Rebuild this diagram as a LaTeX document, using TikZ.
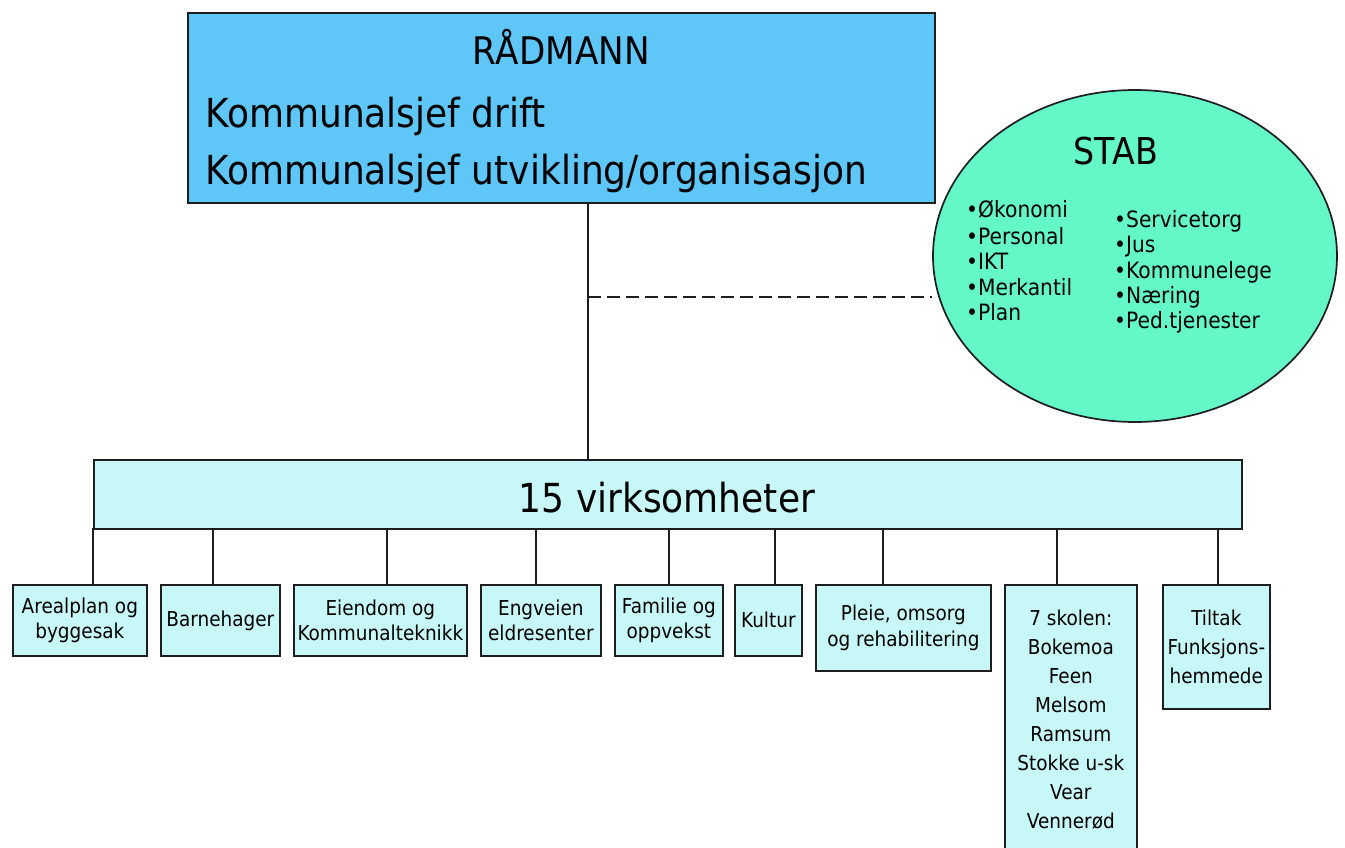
\documentclass[tikz,border=0pt]{standalone}
\usepackage{fontspec}
\setmainfont{DejaVu Sans}[FakeStretch=0.9]
\usetikzlibrary{shapes.geometric}
\definecolor{topblue}{HTML}{5FC7F8}
\definecolor{stabgreen}{HTML}{64F8C8}
\definecolor{unitcyan}{HTML}{C8F7F7}
\definecolor{edge}{HTML}{1E1E1E}
\begin{document}
\begin{tikzpicture}[x=1pt,y=-1pt,
  box/.style={draw=edge, line width=1.7pt, rectangle, inner sep=0pt, anchor=north west},
  unit/.style={box, fill=unitcyan, align=center, font=\fontsize{20.5}{25.5}\selectfont},
  tallunit/.style={unit, font=\fontsize{20.5}{29}\selectfont},
  link/.style={draw=edge, line width=1.6pt},
  txt/.style={inner sep=0pt},
  stabitem/.style={txt, anchor=base west, font=\fontsize{22.5}{26}\selectfont}]
\clip (0,0) rectangle (1345,848);
\fill[white] (0,0) rectangle (1345,848);
% top box
\node[box, fill=topblue, minimum width=747pt, minimum height=190pt] (top) at (187,12) {};
\node[txt, anchor=base, font=\fontsize{38}{42}\selectfont] (rad) at (561,65) {RÅDMANN};
\node[txt, anchor=base west, font=\fontsize{40}{48}\selectfont] (k1) at (205,128) {Kommunalsjef drift};
\node[txt, anchor=base west, font=\fontsize{40}{48}\selectfont] (k2) at (205,185) {Kommunalsjef utvikling/organisasjon};
% stab ellipse
\node[ellipse, draw=edge, line width=1.7pt, fill=stabgreen, minimum width=404pt, minimum height=332pt, inner sep=0pt] (stab) at (1135,256) {};
\node[txt, anchor=base, font=\fontsize{37}{42}\selectfont] (stabt) at (1116,165) {STAB};
\node[stabitem] (l1) at (966,218) {•Økonomi};
\node[stabitem] (l2) at (966,244) {•Personal};
\node[stabitem] (l3) at (966,269.5) {•IKT};
\node[stabitem] (l4) at (966,295) {•Merkantil};
\node[stabitem] (l5) at (966,320.5) {•Plan};
\node[stabitem] (r1) at (1114,227) {•Servicetorg};
\node[stabitem] (r2) at (1114,252.5) {•Jus};
\node[stabitem] (r3) at (1114,278) {•Kommunelege};
\node[stabitem] (r4) at (1114,303) {•Næring};
\node[stabitem] (r5) at (1114,328) {•Ped.tjenester};
% 15 virksomheter
\node[box, fill=unitcyan, minimum width=1148pt, minimum height=69pt] (virk) at (93,459) {};
\node[txt, anchor=base, font=\fontsize{40}{48}\selectfont] (virkt) at (667,512) {15 virksomheter};
% connectors top
\coordinate (tv) at (588,202);
\draw[link] (tv) -- (tv |- virk.north);
\coordinate (dj) at (588,297);
\draw[link, dash pattern=on 13pt off 6pt] (dj) -- (stab.west |- dj);
% units
\node[unit, minimum width=134pt, minimum height=71pt] (a) at (12,584) {Arealplan og\\byggesak};
\node[unit, minimum width=119pt, minimum height=71pt] (b) at (160,584) {Barnehager};
\node[unit, minimum width=173pt, minimum height=71pt] (c) at (293,584) {Eiendom og\\Kommunalteknikk};
\node[unit, minimum width=120pt, minimum height=71pt] (d) at (480,584) {Engveien\\eldresenter};
\node[unit, minimum width=108pt, minimum height=71pt] (e) at (614,584) {Familie og\\oppvekst};
\node[unit, minimum width=67pt, minimum height=71pt] (f) at (734,584) {Kultur};
\node[unit, minimum width=175pt, minimum height=86pt] (g) at (815,584) {Pleie, omsorg\\og rehabilitering};
\node[tallunit, minimum width=132pt, minimum height=269pt] (h) at (1004,584) {7 skolen:\\Bokemoa\\Feen\\Melsom\\Ramsum\\Stokke u-sk\\Vear\\Vennerød};
\node[tallunit, minimum width=107pt, minimum height=124pt] (i) at (1162,584) {Tiltak\\Funksjons-\\hemmede};
% unit connectors
\foreach \n/\x in {a/93, b/213, c/387, d/536, e/669, f/775, g/883, h/1057, i/1218} {
  \coordinate (c\n) at (\x,528);
  \draw[link] (c\n) -- (c\n |- \n.north);
}
\end{tikzpicture}
\end{document}
